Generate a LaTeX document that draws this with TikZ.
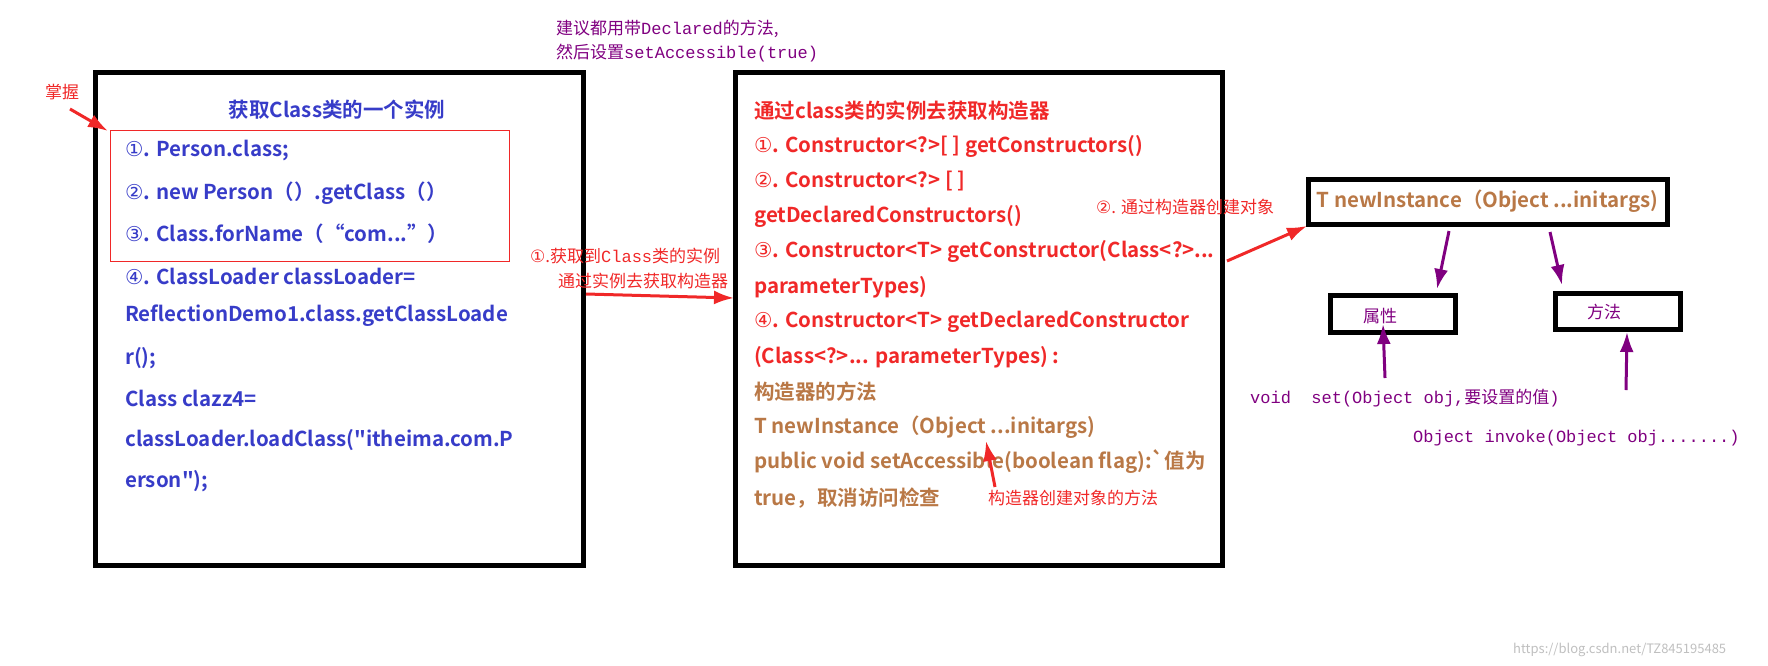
\documentclass[tikz,border=0pt]{standalone}
\usepackage{fontspec}
\setmainfont{Noto Sans CJK SC}
\newfontfamily\cjk{Noto Sans CJK SC}
\newfontfamily\cjkb{Noto Sans CJK SC Bold}
\newfontfamily\monof{Liberation Mono}
\newfontfamily\djv{DejaVu Sans}
\usetikzlibrary{arrows.meta}
\definecolor{cblue}{RGB}{55,60,200}
\definecolor{cred}{RGB}{240,40,40}
\definecolor{cbrown}{RGB}{185,120,70}
\definecolor{cpurple}{RGB}{128,0,128}
\newcommand{\mytt}[1]{{\monof #1}}
\tikzset{
  x=1pt,y=-1pt,
  bx/.style={draw=black,line width=5pt},
  tl/.style={anchor=west,inner sep=0pt,font=\cjkb\fontsize{20.5}{20.5}\selectfont},
  bl/.style={tl,text=cblue},
  rl/.style={tl,text=cred},
  br/.style={tl,text=cbrown},
  note/.style={anchor=west,inner sep=0pt,font=\cjk\fontsize{17}{17}\selectfont},
  parr/.style={draw=cpurple,line width=3pt,-{Latex[length=20pt,width=14pt]}},
  rarr/.style={draw=cred,line width=3pt,-{Latex[length=20pt,width=14pt]}}
}
\begin{document}
\begin{tikzpicture}
\useasboundingbox (0,0) rectangle (1768,665);
% boxes
\draw[bx] (95,72) rectangle (583,565);
\draw[bx] (735,72) rectangle (1222,565);
\draw[draw=cred,line width=1pt] (110,130) rectangle (509,261);
\node[bx,minimum width=359,minimum height=45,inner sep=0pt] (ni) at (1487.5,201.5) {};
\node[br,anchor=center] at (ni) {T newInstance（Object ...initargs)};
\node[bx,minimum width=125,minimum height=37] (attr) at (1392.5,313.5) {};
\node[bx,minimum width=125,minimum height=36] (meth) at (1617.5,311) {};
\node[note,text=cpurple,anchor=center] at (1380,316) {属性};
\node[note,text=cpurple,anchor=center] at (1604,312) {方法};
% top note
\node[note,text=cpurple] (top1) at (556,29) {建议都用带\mytt{Declared}的方法,};
\node[note,text=cpurple] (top2) at (556,53) {然后设置\mytt{setAccessible(true)}};
% left content
\node[note,text=cred] (zw) at (45,92) {掌握};
\coordinate (zwa) at (70,109);
\coordinate (zwb) at (108,131);
\draw[rarr] (zwa) -- (zwb);
\node[bl,anchor=center] (t1) at (337,110) {获取Class类的一个实例};
\node[bl] (l1) at (125,151) {{\djv ①}. Person.class;};
\node[bl] (l2) at (125,193) {{\djv ②}. new Person（）.getClass（）};
\node[bl] (l3) at (125,234) {{\djv ③}. Class.forName（“com...”）};
\node[bl] (l4) at (125,276) {{\djv ④}. ClassLoader classLoader=};
\node[bl] (l5) at (125,316) {ReflectionDemo1.class.getClassLoade};
\node[bl] (l6) at (125,358) {r();};
\node[bl] (l7) at (125,398) {Class clazz4=};
\node[bl] (l8) at (125,440) {classLoader.loadClass("itheima.com.P};
\node[bl] (l9) at (125,481) {erson");};
% middle content
\node[rl] (m1) at (754,111) {通过class类的实例去获取构造器};
\node[rl] (m2) at (754,146) {{\djv ①}. Constructor<?>[ ] getConstructors()};
\node[rl] (m3) at (754,181) {{\djv ②}. Constructor<?> [ ]};
\node[rl] (m4) at (754,216) {getDeclaredConstructors()};
\node[rl] (m5) at (754,251) {{\djv ③}. Constructor<T> getConstructor(Class<?>...};
\node[rl] (m6) at (754,287) {parameterTypes)};
\node[rl] (m7) at (754,322) {{\djv ④}. Constructor<T> getDeclaredConstructor};
\node[rl] (m8) at (754,357) {(Class<?>... parameterTypes) :};
\node[br] (m9) at (754,392) {构造器的方法};
\node[br] (m10) at (754,427) {T newInstance（Object ...initargs)};
\node[br] (m11) at (754,462) {public void setAccessible(boolean flag):`值为};
\node[br] (m12) at (754,498) {true，取消访问检查};
% arrows and notes
\node[note,text=cred] (a1) at (530,256) {{\djv ①}.获取到\mytt{Class}类的实例};
\node[note,text=cred] (a2) at (558,281) {通过实例去获取构造器};
\coordinate (s1) at (586,294);
\coordinate (e1) at (734,298);
\draw[rarr] (s1) -- (e1);
\node[note,text=cred] (a3) at (1096,207) {{\djv ②}. 通过构造器创建对象};
\coordinate (s2) at (1227,261);
\coordinate (e2) at (1307,226);
\draw[rarr] (s2) -- (e2);
\node[note,text=cred] (a4) at (988,498) {构造器创建对象的方法};
\coordinate (s3) at (995,487);
\coordinate (e3) at (986,441);
\draw[rarr] (s3) -- (e3);
\coordinate (p1) at (1449,231);
\coordinate (p1e) at (1437,289);
\draw[parr] (p1) -- (p1e);
\coordinate (p2) at (1550,232);
\coordinate (p2e) at (1562,285);
\draw[parr] (p2) -- (p2e);
\node[note,text=cpurple] (v1) at (1250,398) {\mytt{void\ \ set(Object obj,}要设置的值\mytt{)}};
\node[note,text=cpurple] (v2) at (1413,438) {\mytt{Object invoke(Object obj.......)}};
\coordinate (u1) at (1385,378);
\coordinate (u1e) at (1383,324);
\draw[parr] (u1) -- (u1e);
\coordinate (u2) at (1626,390);
\coordinate (u2e) at (1627,332);
\draw[parr] (u2) -- (u2e);
\node[anchor=west,inner sep=0pt,text=black!25,font=\fontsize{13}{13}\selectfont] (wm) at (1513,650) {https://blog.csdn.net/TZ845195485};
\end{tikzpicture}
\end{document}
